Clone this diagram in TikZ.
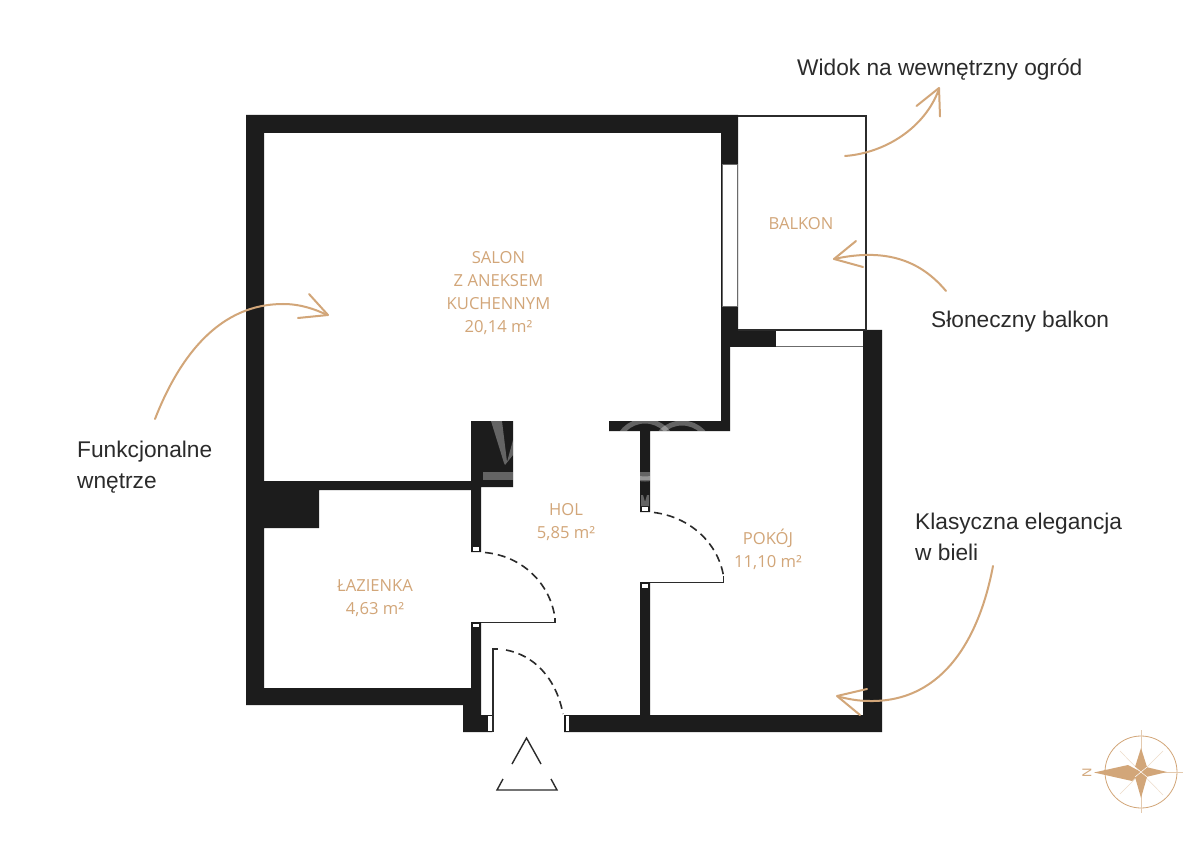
\documentclass[tikz,border=0pt]{standalone}
\usepackage{fontspec}
\setmainfont{Open Sans}
\newfontfamily\labelfont{Liberation Sans}
\definecolor{wallc}{HTML}{1C1C1C}
\definecolor{tan}{HTML}{D2A679}
\definecolor{inkc}{HTML}{2B2B2B}
\tikzset{
  x=1pt,y=-1pt,
  wall/.style={fill=wallc,draw=none},
  pane/.style={fill=white,draw=none},
  thinline/.style={draw=inkc,line width=1.2pt},
  doorarc/.style={draw=inkc,line width=1.6pt,dash pattern=on 8pt off 5pt},
  curve/.style={draw=tan,line width=2pt,line cap=round,line join=round},
  room/.style={text=tan,font=\fontsize{16.6}{22.8}\selectfont,align=center,inner sep=0pt},
  note/.style={text=inkc,font=\labelfont\fontsize{22.7}{31}\selectfont,align=left,inner sep=0pt,anchor=west},
  wmark/.style={fill=white,opacity=.32,draw=none}
}
\begin{document}
\begin{tikzpicture}
\useasboundingbox[fill=white] (0,0) rectangle (1200,850);
% main apartment walls
\fill[wall] (246,115) -- (738,115) -- (738,330) -- (776,330) -- (776,347) -- (730,347) -- (730,431) -- (650,431) -- (650,512) -- (640,512) -- (640,431) -- (609,431) -- (609,421) -- (721,421) -- (721,133) -- (264,133) -- (264,481) -- (471,481) -- (471,421) -- (513,421) -- (513,487) -- (481,487) -- (481,552) -- (471,552) -- (471,490) -- (319,490) -- (319,528) -- (264,528) -- (264,688) -- (471,688) -- (471,622) -- (481,622) -- (481,715) -- (492,715) -- (492,732) -- (463,732) -- (463,705) -- (246,705) -- cycle;
\fill[wall] (564,715) -- (640,715) -- (640,582) -- (650,582) -- (650,715) -- (863,715) -- (863,330) -- (882,330) -- (882,732) -- (564,732) -- cycle;
% windows and door jambs
\fill[pane] (722.5,164) rectangle (737,306);
\draw[inkc!70,line width=.6pt] (722,164) rectangle (737.5,306);
\fill[pane] (776,331.5) rectangle (863,346);
\fill[pane] (473,546.5) rectangle (479,550.5);
\fill[pane] (642,507) rectangle (648,511);
\fill[pane] (642,584) rectangle (648,588);
\fill[pane] (473,623.5) rectangle (479,627);
\fill[pane] (488,716) rectangle (492,731);
\fill[pane] (565.5,716) rectangle (569,731);
% balcony
\draw[thinline] (738,116) -- (866,116) -- (866,330) -- (738,330);
\draw[inkc!70,line width=.6pt] (776,346.5) -- (863,346.5);
% watermark fragments
\begin{scope}
\clip (471,421) rectangle (513,487) (640,431) rectangle (650,512) (609,421) rectangle (730,431);
\fill[wmark] (491,421) -- (502,421) -- (507,462) -- (513,440) -- (513,455) -- (505,465) -- (504,463) -- cycle;
\fill[wmark] (483,472) rectangle (513,480);
\fill[wmark] (640,472) rectangle (650,480);
\draw[white,opacity=.32,line width=5pt] (645,450) circle (29);
\draw[white,opacity=.32,line width=5pt] (682,452) circle (29);
\fill[wmark] (641,495) -- (643,495) -- (645,502) -- (647,495) -- (649,495) -- (649,506) -- (641,506) -- cycle;
\end{scope}
% doors
\draw[thinline] (481,622.5) -- (555,622.5) -- (555,618);
\draw[doorarc] (485,552.5) .. controls (522,556) and (550,583) .. (555,618);
\draw[thinline] (650,582.5) -- (723.5,582.5) -- (723.5,576);
\draw[doorarc] (654,512.5) .. controls (690,517) and (718,543) .. (723.5,576);
\draw[thinline] (493,732) -- (493,649) -- (498,649);
\draw[doorarc] (506,650) .. controls (533,655) and (556,677) .. (563,714);
% entrance mark
\draw[inkc,line width=1.4pt] (512,764) -- (526.5,738) -- (541,764);
\draw[inkc,line width=1.4pt] (503,779) -- (497,790) -- (557,790) -- (551,779);
% room labels
\node[room] (salon) at (498.5,293) {SALON\\Z ANEKSEM\\KUCHENNYM\\20,14 m²};
\node[room] (balkon) at (801,224) {BALKON};
\node[room] (hol) at (566,522) {HOL\\5,85 m²};
\node[room] (pokoj) at (768,549.5) {POKÓJ\\11,10 m²};
\node[room] (laz) at (375,598) {ŁAZIENKA\\4,63 m²};
% notes
\node[note] (n1) at (797,70) {Widok na wewnętrzny ogród};
\node[note] (n2) at (931,322) {Słoneczny balkon};
\node[note] (n3) at (77,467.5) {Funkcjonalne\\wnętrze};
\node[note] (n4) at (915,536.5) {Klasyczna elegancja\\w bieli};
% arrows
\draw[curve] (845,156) .. controls (885,153) and (925,128) .. (939,89);
\draw[curve] (916.5,106) -- (939,88) -- (940,116.5);
\draw[curve] (946,291) .. controls (925,266) and (893,246) .. (834,259);
\draw[curve] (856,241) -- (834,259) -- (863,267);
\draw[curve] (155,419) .. controls (180,355) and (220,304) .. (283,304) .. controls (300,304) and (315,309) .. (327,315);
\draw[curve] (309,294) -- (328,315) -- (298,318);
\draw[curve] (993,566) .. controls (980,635) and (945,702) .. (870,701) .. controls (858,701) and (848,699) .. (838,696.5);
\draw[curve] (867,689) -- (837,696) -- (860,715);
% compass
\begin{scope}
\draw[tan,line width=.8pt] (1141,772) circle (36);
\draw[tan!60,line width=.4pt] (1141,730) -- (1141,813) (1099,772) -- (1183,772);
\draw[tan!40,line width=.5pt] (1120,751) -- (1163,795) (1120,794) -- (1163,751);
\fill[tan] (1094,772.5) -- (1128,765) -- (1141,772) -- (1132,781) -- cycle;
\fill[tan] (1141,748) -- (1147,767) -- (1141,772) -- (1135,767) -- cycle;
\fill[tan] (1141,798) -- (1147,777) -- (1141,772) -- (1135,777) -- cycle;
\fill[tan] (1167,772) -- (1146,767) -- (1141,772) -- (1146,777) -- cycle;
\draw[white,line width=.5pt] (1135,767) -- (1147,777) (1147,767) -- (1135,777);
\node[rotate=90,text=tan,inner sep=0pt,font=\labelfont\fontsize{13}{13}\selectfont] (north) at (1087,772.5) {N};
\end{scope}
\end{tikzpicture}
\end{document}
